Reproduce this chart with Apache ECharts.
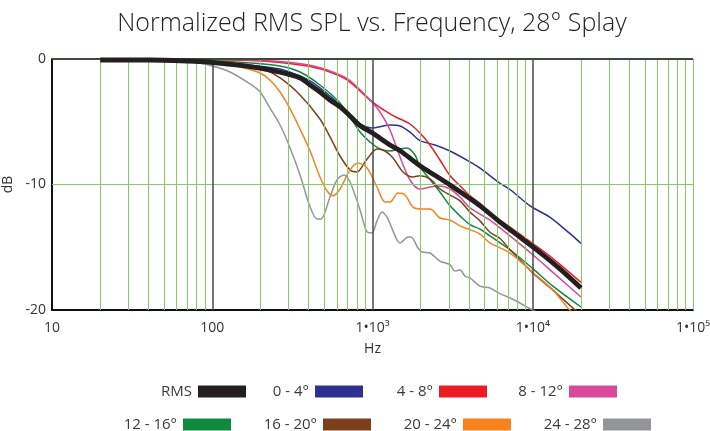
<!DOCTYPE html>
<html><head><meta charset="utf-8">
<script src="https://cdn.jsdelivr.net/npm/echarts@6/dist/echarts.min.js"></script>
<style>html,body{margin:0;padding:0;background:#fff}#c{width:710px;height:431px}</style>
</head><body><div id="c"></div>
<script>
// ---- data (Hz, dB) ----
const rmsFreq = [20, 41, 84, 100, 172, 265, 353, 408, 470, 543, 627, 693, 836, 1000, 1286, 1485, 1978, 3047, 4688, 6251, 8318, 11066, 14723, 20000];
const rmsDb   = [-0.08, -0.08, -0.2, -0.28, -0.6, -1.04, -1.51, -2.07, -2.63, -3.27, -3.82, -4.3, -5.3, -5.9, -6.85, -7.3, -8.5, -10.04, -11.7, -13.0, -14.2, -15.4, -16.7, -18.25];

const a0Freq = [20, 84, 172, 265, 353, 408, 470, 543, 627, 724, 836, 1000, 1150, 1286, 1485, 1714, 1978, 2455, 3047, 4058, 4688, 6251, 7211, 9616, 12764, 17022, 20000];
const a0Db   = [-0.04, -0.16, -0.48, -0.8, -1.35, -1.75, -2.3, -2.95, -3.67, -4.54, -5.18, -5.5, -5.35, -5.26, -5.34, -5.82, -6.5, -6.85, -7.33, -8.2, -8.7, -9.9, -10.4, -11.7, -12.6, -13.9, -14.7];

const a4Freq = [20, 84, 172, 265, 408, 543, 693, 836, 1000, 1286, 1485, 1714, 1978, 2284, 2636, 3047, 3516, 4058, 4688, 5408, 7211, 10000, 13360, 20000];
const a4Db   = [0, -0.04, -0.12, -0.28, -0.6, -1.04, -1.67, -2.55, -3.43, -4.38, -4.78, -5.18, -5.9, -6.85, -8.05, -9.3, -10.1, -10.9, -11.5, -12.3, -13.4, -14.7, -15.9, -17.8];

const a8Freq = [20, 84, 172, 265, 408, 543, 693, 836, 964, 1114, 1286, 1485, 1714, 1978, 2300, 2636, 3047, 3516, 4058, 5408, 7211, 10000, 13360, 20000];
const a8Db   = [0, -0.02, -0.08, -0.2, -0.5, -0.95, -1.55, -2.45, -3.27, -4.22, -5.66, -7.81, -9.64, -10.36, -10.2, -10.12, -10.36, -11.0, -11.87, -12.83, -14.1, -15.6, -17.0, -18.96];

const a12Freq = [20, 84, 172, 265, 353, 470, 627, 724, 836, 964, 1114, 1286, 1485, 1641, 1841, 1978, 2284, 2636, 3047, 3516, 4058, 4688, 5408, 7211, 10000, 13360, 20000];
const a12Db   = [-0.04, -0.12, -0.32, -0.56, -1.04, -2.07, -3.5, -4.62, -5.82, -6.61, -7.17, -7.33, -7.17, -7.09, -7.65, -8.6, -9.6, -10.6, -11.7, -12.5, -13.2, -13.55, -14.1, -15.2, -16.7, -18.1, -19.76];

const a16Freq = [20, 84, 129, 199, 265, 353, 470, 543, 627, 724, 800, 925, 1067, 1197, 1343, 1550, 1789, 1978, 2284, 2636, 3047, 3516, 4058, 4688, 5408, 6251, 7211, 8318, 10000, 12764, 14723, 18370, 20000];
const a16Db   = [-0.04, -0.16, -0.32, -0.72, -1.51, -2.87, -4.78, -6.2, -7.73, -8.84, -9.0, -7.97, -7.17, -7.33, -7.89, -9.0, -9.4, -9.3, -9.56, -10.36, -10.84, -11.3, -12.2, -12.9, -13.8, -14.3, -15.2, -16.0, -17.05, -18.2, -18.9, -20.0, -20.4];

const a20Freq = [20, 54.5, 100, 149, 199, 229, 265, 306, 353, 408, 470, 520, 567, 627, 724, 813, 925, 1067, 1197, 1286, 1442, 1596, 1789, 2038, 2284, 2636, 3047, 3516, 4058, 4688, 5408, 7211, 10000, 13360, 17022, 20000];
const a20Db   = [0, -0.04, -0.24, -0.64, -1.12, -1.67, -2.63, -3.98, -5.58, -7.33, -9.4, -10.5, -10.9, -10.36, -8.84, -8.29, -8.68, -10.2, -11.4, -11.4, -10.68, -10.84, -11.8, -11.95, -11.95, -12.67, -12.83, -13.3, -13.6, -13.95, -14.66, -15.46, -17.0, -18.4, -20.0, -20.6];

const a24Freq = [20, 41, 72.6, 100, 129, 172, 199, 229, 265, 306, 353, 408, 451, 477, 543, 600, 663, 724, 836, 925, 993, 1067, 1146, 1231, 1422, 1485, 1667, 1740, 1922, 2038, 2284, 2636, 3047, 3273, 3516, 3777, 4058, 4688, 5408, 6251, 7211, 8318, 9616, 11066];
const a24Db   = [-0.02, -0.08, -0.2, -0.56, -1.04, -1.99, -2.63, -3.9, -5.26, -7.09, -9.24, -11.8, -12.75, -12.75, -10.99, -9.64, -9.24, -9.8, -12.03, -13.78, -13.86, -12.9, -12.2, -12.6, -14.42, -14.66, -14.18, -14.18, -15.06, -15.38, -15.46, -16.1, -16.4, -16.9, -16.8, -17.3, -17.45, -18.1, -18.25, -18.7, -19.04, -19.44, -19.9, -20.3];

const seriesNames = ['RMS', '0 - 4°', '4 - 8°', '8 - 12°', '12 - 16°', '16 - 20°', '20 - 24°', '24 - 28°'];
const seriesColors = ['#231f20', '#2e3192', '#ed1c24', '#d9489a', '#0e8a3f', '#7b3f1e', '#f7821f', '#939598'];
const xTickLabels = ['10', '100', '1•10³', '1•10⁴', '1•10⁵'];
const yTicks = [-20, -10, 0];

const freqs = [rmsFreq, a0Freq, a4Freq, a8Freq, a12Freq, a16Freq, a20Freq, a24Freq];
const dbs = [rmsDb, a0Db, a4Db, a8Db, a12Db, a16Db, a20Db, a24Db];

// gridline positions
const minorLines = [];
[10, 100, 1000, 10000].forEach(d => { for (let m = 2; m <= 9; m++) minorLines.push(m * d); });
minorLines.push(100000);
const majorLines = [100, 1000, 10000];

const FONT = '"Open Sans", "Noto Sans", sans-serif';
const chart = echarts.init(document.getElementById('c'), null, {renderer: 'canvas'});

const series = [];
// gridlines
series.push({
  type: 'line', data: [], z: 1, silent: true,
  markLine: { silent: true, symbol: 'none', animation: false, label: {show: false},
    lineStyle: {color: '#86cc66', width: 1, type: 'solid'}, emphasis: {disabled: true},
    data: minorLines.map(v => ({xAxis: v})).concat([{yAxis: -10}]) }
});
series.push({
  type: 'line', data: [], z: 1, silent: true,
  markLine: { silent: true, symbol: 'none', animation: false, label: {show: false},
    lineStyle: {color: '#4a4a4a', width: 1.5, type: 'solid'}, emphasis: {disabled: true},
    data: majorLines.map(v => ({xAxis: v})) }
});
series.push({
  type: 'line', data: [], z: 1, silent: true,
  markLine: { silent: true, symbol: 'none', animation: false, label: {show: false},
    lineStyle: {color: '#3e4a3e', width: 2, type: 'solid'}, emphasis: {disabled: true},
    data: [{yAxis: 0}] }
});
// data series: draw RMS last (on top)
const order = [1, 2, 3, 4, 5, 6, 7, 0];
order.forEach(i => {
  series.push({
    name: seriesNames[i], type: 'line', z: i === 0 ? 5 : 3,
    data: freqs[i].map((f, k) => [f, dbs[i][k]]),
    showSymbol: false, symbol: 'none', smooth: 0.3, clip: true,
    color: seriesColors[i],
    lineStyle: {color: seriesColors[i], width: i === 0 ? 4.8 : 1.5},
    emphasis: {disabled: true}
  });
});

const legendPos = [
  {right: 464, top: 384}, {right: 347, top: 384}, {right: 223, top: 384}, {right: 93, top: 384},
  {right: 479, top: 417}, {right: 339, top: 417}, {right: 199, top: 417}, {right: 59, top: 417}
];
const legends = seriesNames.map((n, i) => ({
  data: [n], right: legendPos[i].right, top: legendPos[i].top, orient: 'horizontal',
  align: 'right', icon: 'rect', itemWidth: 48, itemHeight: 12, padding: 0, selectedMode: false,
  textStyle: {fontSize: 15, color: '#3a3a3a', fontFamily: FONT, padding: [0, 1, 0, 0]},
  itemStyle: {borderWidth: 0}
}));

chart.setOption({
  animation: false,
  backgroundColor: '#ffffff',
  title: {
    text: 'Normalized RMS SPL vs. Frequency, 28° Splay',
    left: 367, top: 6, textAlign: 'center',
    textStyle: {fontSize: 25, fontWeight: 300, color: '#222', fontFamily: FONT}
  },
  legend: legends,
  grid: {left: 52, right: 17, top: 59, bottom: 121, containLabel: false, outerBoundsMode: 'none'},
  xAxis: {
    type: 'log', logBase: 10, min: 10, max: 100000,
    name: 'Hz', nameLocation: 'middle', nameGap: 32,
    nameTextStyle: {fontSize: 14, color: '#333', fontFamily: FONT},
    axisLine: {show: true, onZero: false, lineStyle: {color: '#111', width: 2}},
    axisTick: {show: false},
    splitLine: {show: false},
    minorTick: {show: false}, minorSplitLine: {show: false},
    axisLabel: {show: true, margin: 11, fontSize: 14, color: '#333', fontFamily: FONT,
      showMinLabel: true, showMaxLabel: true, hideOverlap: false,
      formatter: v => { const e = Math.round(Math.log10(v)); return xTickLabels[e - 1] || ''; }}
  },
  yAxis: {
    type: 'value', min: yTicks[0], max: yTicks[2], interval: 10,
    name: 'dB', nameLocation: 'middle', nameGap: 33, nameRotate: 90,
    nameTextStyle: {fontSize: 14, color: '#333', fontFamily: FONT},
    axisLine: {show: true, onZero: false, lineStyle: {color: '#111', width: 2}},
    axisTick: {show: false},
    splitLine: {show: false},
    axisLabel: {show: true, margin: 6, fontSize: 14, color: '#333', fontFamily: FONT}
  },
  series: series
});
</script>
</body></html>
